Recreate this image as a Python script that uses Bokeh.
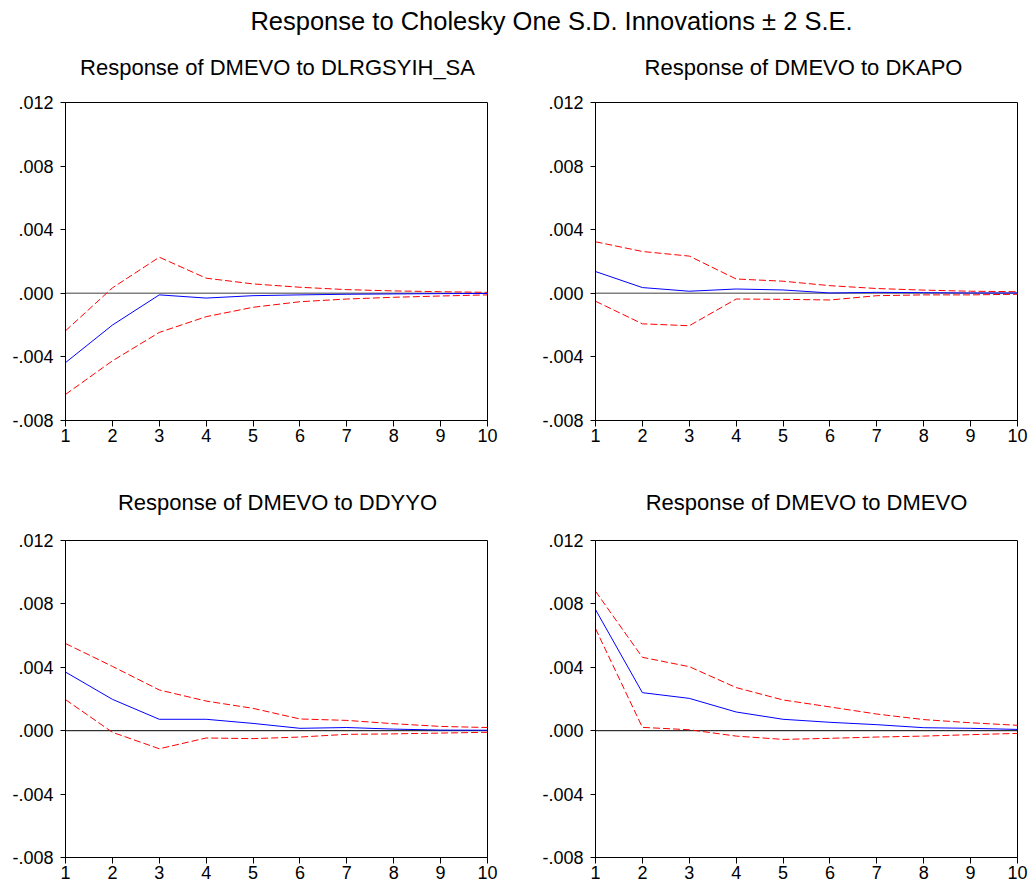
from bokeh.plotting import figure
from bokeh.layouts import column, row
from bokeh.models import Range1d, FixedTicker, Span
from bokeh.core.properties import value
from bokeh.embed import file_html
from bokeh.resources import INLINE

periods = [1, 2, 3, 4, 5, 6, 7, 8, 9, 10]

main_title = "Response to Cholesky One S.D. Innovations \u00b1 2 S.E."
panel_titles = [
    "Response of DMEVO to DLRGSYIH_SA",
    "Response of DMEVO to DKAPO",
    "Response of DMEVO to DDYYO",
    "Response of DMEVO to DMEVO",
]

# Panel 1: DMEVO to DLRGSYIH_SA
resp1 = [-0.00436, -0.0020, -0.0001, -0.0003, -0.00015, -0.0001, -0.00006, -0.00004, -0.00002, -0.00001]
up1 = [-0.00236, 0.00034, 0.00227, 0.00095, 0.00059, 0.00038, 0.00023, 0.00015, 0.0001, 0.00006]
lo1 = [-0.00636, -0.00425, -0.00246, -0.00147, -0.00088, -0.00053, -0.00036, -0.00025, -0.00017, -0.0001]

# Panel 2: DMEVO to DKAPO
resp2 = [0.00137, 0.00036, 0.00013, 0.00027, 0.00021, 0.00002, 0.00006, 0.00004, 0.00002, 0.00002]
up2 = [0.00324, 0.00263, 0.00234, 0.0009, 0.00076, 0.00048, 0.0003, 0.0002, 0.00013, 0.0001]
lo2 = [-0.0005, -0.00192, -0.00204, -0.00036, -0.00038, -0.00042, -0.00015, -0.0001, -0.0001, -0.00006]

# Panel 3: DMEVO to DDYYO
resp3 = [0.0037, 0.00198, 0.00072, 0.00072, 0.00046, 0.00015, 0.0002, 0.0001, 0.00004, 0.00003]
up3 = [0.0055, 0.00406, 0.00257, 0.00187, 0.00141, 0.00074, 0.00065, 0.00044, 0.00027, 0.0002]
lo3 = [0.00196, -0.0001, -0.00114, -0.00046, -0.0005, -0.0004, -0.00023, -0.0002, -0.00015, -0.0001]

# Panel 4: DMEVO to DMEVO
resp4 = [0.00764, 0.0024, 0.00204, 0.00118, 0.00072, 0.00053, 0.00038, 0.00019, 0.00015, 0.00008]
up4 = [0.0088, 0.00463, 0.00404, 0.00272, 0.00194, 0.0015, 0.00105, 0.0007, 0.0005, 0.00034]
lo4 = [0.00644, 0.00021, 0.00006, -0.00034, -0.00055, -0.00048, -0.0004, -0.00034, -0.00025, -0.00017]

y_ticks = [-0.008, -0.004, 0.0, 0.004, 0.008, 0.012]
y_tick_labels = ["-.008", "-.004", ".000", ".004", ".008", ".012"]

FONT = "Liberation Sans"
FRAME_W = 422
TOTAL_W = 1028


def panel(resp, up, lo, left, right, top, bottom, frame_h, zero_color, zero_width):
    p = figure(
        width=left + FRAME_W + right,
        height=top + frame_h + bottom,
        x_range=Range1d(1, 10),
        y_range=Range1d(-0.008, 0.012),
        toolbar_location=None,
        output_backend="svg",
        min_border_left=left,
        min_border_right=right,
        min_border_top=top,
        min_border_bottom=bottom,
    )
    p.grid.visible = False
    p.outline_line_color = "black"
    p.outline_line_alpha = 1
    p.outline_line_width = 1
    p.background_fill_color = "white"
    p.border_fill_color = "white"

    p.xaxis.ticker = FixedTicker(ticks=periods)
    p.yaxis.ticker = FixedTicker(ticks=y_ticks)
    p.yaxis.major_label_overrides = dict(zip(y_ticks, y_tick_labels))
    for ax in (p.xaxis[0], p.yaxis[0]):
        ax.axis_line_color = "black"
        ax.major_tick_line_color = "black"
        ax.minor_tick_line_color = None
        ax.major_tick_in = 0
        ax.major_label_text_font = FONT
        ax.major_label_text_font_size = "18px"
        ax.major_label_text_color = "black"
    p.xaxis.major_tick_out = 6
    p.xaxis.major_label_standoff = 2
    p.yaxis.major_tick_out = 5
    p.yaxis.major_label_standoff = 7

    zero = Span(location=0, dimension="width", line_color=zero_color, line_width=zero_width, level="underlay")
    p.add_layout(zero)

    p.line(periods, up, line_color="#FF0000", line_width=1, line_dash="7 3")
    p.line(periods, lo, line_color="#FF0000", line_width=1, line_dash="7 3")
    p.line(periods, resp, line_color="#0000FF", line_width=1)
    return p


def strip(height):
    s = figure(
        width=TOTAL_W, height=height,
        x_range=Range1d(0, TOTAL_W), y_range=Range1d(0, height),
        toolbar_location=None, output_backend="svg",
        x_axis_type=None, y_axis_type=None,
        min_border=0,
    )
    s.outline_line_color = None
    s.grid.visible = False
    return s


# strip with main title and the titles of the upper panels
sa = strip(88)
sa.text(x=[551], y=[68], text=[main_title], text_align="center", text_baseline="middle",
        text_font=value(FONT), text_font_size="25.5px", text_color="black")
sa.text(x=[277, 803], y=[21, 21], text=[panel_titles[0], panel_titles[1]],
        text_align="center", text_baseline="middle",
        text_font=value(FONT), text_font_size="22px", text_color="black")

# strip with titles of the lower panels
sb = strip(56)
sb.text(x=[277, 806], y=[24, 24], text=[panel_titles[2], panel_titles[3]],
        text_align="center", text_baseline="middle",
        text_font=value(FONT), text_font_size="22px", text_color="black")

p1 = panel(resp1, up1, lo1, 65, 46, 14, 50, 318, "#808080", 1.5)
p2 = panel(resp2, up2, lo2, 62, 11, 14, 50, 318, "#808080", 1.5)
p3 = panel(resp3, up3, lo3, 65, 46, 14, 30, 317, "black", 1)
p4 = panel(resp4, up4, lo4, 62, 11, 14, 30, 317, "black", 1)

layout = column(sa, row(p1, p2), sb, row(p3, p4))

open("out.html", "w").write(file_html(layout, INLINE))
